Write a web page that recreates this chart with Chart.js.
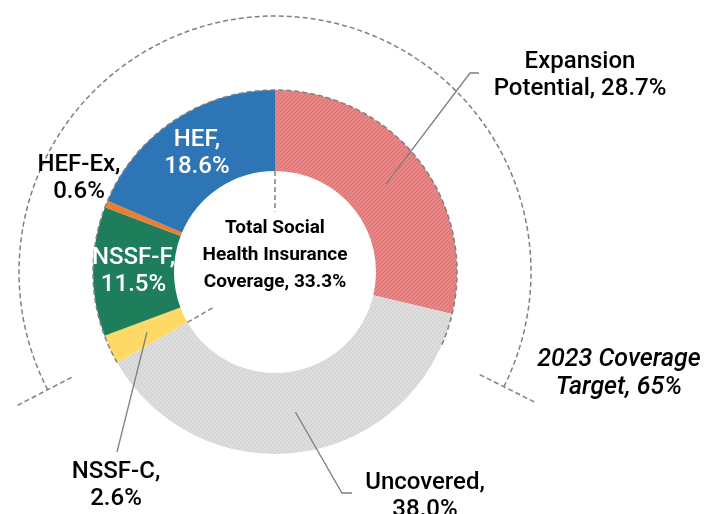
<!DOCTYPE html>
<html>
<head>
<meta charset="utf-8">
<script src="https://cdn.jsdelivr.net/npm/chart.js@4.4.1/dist/chart.umd.min.js"></script>
<style>
    html, body { margin: 0; padding: 0; background: #fff; }
</style>
</head>
<body>
<canvas id="coverage-chart" width="707" height="514"></canvas>
<script>
// Dữ liệu biểu đồ
const segmentNames = ['Expansion Potential', 'Uncovered', 'NSSF-C', 'NSSF-F', 'HEF-Ex', 'HEF'];
const segmentValues = [28.7, 38.0, 2.6, 11.5, 0.6, 18.6];
const coveredNames = ['NSSF-C', 'NSSF-F', 'HEF-Ex', 'HEF'];
const centerLines = ['Total Social', 'Health Insurance', 'Coverage, 33.3%'];
const coverageTarget = 65;
const targetLines = ['2023 Coverage', 'Target, 65%'];

// Kiểu dáng
const labelFont = '500 24px Roboto, "Liberation Sans", sans-serif';
const centerFont = 'bold 19px Roboto, "Liberation Sans", sans-serif';
const targetFont = 'italic 500 25px Roboto, "Liberation Sans", sans-serif';
const dashColor = '#808080';
const bracketShift = 2.5 * Math.PI / 180;

// Vị trí nhãn (bên trong: theo tâm cung; bên ngoài: toạ độ + đường dẫn)
const labelPlacement = {
    'Expansion Potential': { x: 580, y: 62, elbow: [470, 73], end: [479, 73] },
    'Uncovered': { x: 425, y: 483, elbow: [342, 493], end: [352, 493] },
    'NSSF-C': { x: 116, y: 472, elbow: [117, 452] },
    'NSSF-F': { inside: true },
    'HEF-Ex': { x: 79, y: 165 },
    'HEF': { inside: true }
};
const targetPos = { x: 619, y: 360 };

// Tạo nhãn hai dòng từ tên và giá trị
function labelLines(name, value) {
    const words = name.split(' ');
    const pct = value.toFixed(1) + '%';
    if (words.length > 1) return [words[0], words.slice(1).join(' ') + ', ' + pct];
    return [name + ',', pct];
}

// Mẫu gạch chéo cho các phần không được bao phủ
function makeHatch(base, line) {
    const c = document.createElement('canvas');
    c.width = 4; c.height = 4;
    const g = c.getContext('2d');
    g.fillStyle = base;
    g.fillRect(0, 0, 4, 4);
    g.strokeStyle = line;
    g.lineWidth = 1;
    g.beginPath();
    g.moveTo(0, 4); g.lineTo(4, 0);
    g.moveTo(-1, 1); g.lineTo(1, -1);
    g.moveTo(3, 5); g.lineTo(5, 3);
    g.stroke();
    return g.createPattern(c, 'repeat');
}

const segmentColors = [
    makeHatch('#E98585', '#DC7070'),
    makeHatch('#DDDDDD', '#D0D0D0'),
    '#FFD966',
    '#1E7D5B',
    '#ED7D31',
    '#2E75B6'
];

function drawLines(ctx, lines, x, y, step) {
    lines.forEach((t, i) => ctx.fillText(t, x, y + i * step));
}

// Plugin vẽ nhãn, đường dẫn và vùng mục tiêu
const annotationPlugin = {
    id: 'coverageAnnotations',
    afterDatasetsDraw(chart) {
        const ctx = chart.ctx;
        const arcs = chart.getDatasetMeta(0).data;
        const cx = arcs[0].x, cy = arcs[0].y;
        const outerR = arcs[0].outerRadius, innerR = arcs[0].innerRadius;
        const firstCovered = segmentNames.indexOf(coveredNames[0]);
        const lastCovered = segmentNames.indexOf(coveredNames[coveredNames.length - 1]);
        const startA = arcs[firstCovered].startAngle;
        const coveredEnd = arcs[lastCovered].endAngle;
        const targetEnd = startA + coverageTarget / 100 * Math.PI * 2;
        const pt = (a, r) => [cx + Math.cos(a) * r, cy + Math.sin(a) * r];

        ctx.save();
        // Đường đứt nét mục tiêu
        ctx.strokeStyle = dashColor;
        ctx.lineWidth = 1.5;
        ctx.setLineDash([5, 3]);
        ctx.beginPath();
        ctx.arc(cx, cy, outerR + 74, startA + bracketShift, targetEnd + bracketShift);
        ctx.stroke();
        ctx.beginPath();
        ctx.arc(cx, cy, outerR, startA, targetEnd);
        ctx.stroke();
        [startA + bracketShift, targetEnd + bracketShift].forEach(a => {
            const p1 = pt(a, outerR + 47), p2 = pt(a, outerR + 108);
            ctx.beginPath();
            ctx.moveTo(p1[0], p1[1]); ctx.lineTo(p2[0], p2[1]);
            ctx.stroke();
        });
        // Đường chỉ tổng bao phủ bên trong
        [[startA, innerR * 0.7], [coveredEnd, innerR * 0.6]].forEach(([a, r]) => {
            const p1 = pt(a, innerR), p2 = pt(a, r);
            ctx.beginPath();
            ctx.moveTo(p1[0], p1[1]); ctx.lineTo(p2[0], p2[1]);
            ctx.stroke();
        });
        ctx.setLineDash([]);

        // Nhãn từng phần
        ctx.textAlign = 'center';
        ctx.textBaseline = 'middle';
        segmentNames.forEach((name, i) => {
            const place = labelPlacement[name];
            const lines = labelLines(name, segmentValues[i]);
            const c = arcs[i].tooltipPosition();
            ctx.font = labelFont;
            if (place.inside) {
                ctx.fillStyle = '#ffffff';
                drawLines(ctx, lines, c.x, c.y - 14, 27);
                return;
            }
            if (place.elbow) {
                ctx.strokeStyle = '#7f7f7f';
                ctx.lineWidth = 1.3;
                ctx.beginPath();
                ctx.moveTo(c.x, c.y);
                ctx.lineTo(place.elbow[0], place.elbow[1]);
                if (place.end) ctx.lineTo(place.end[0], place.end[1]);
                ctx.stroke();
            }
            ctx.fillStyle = '#000000';
            drawLines(ctx, lines, place.x, place.y, 27);
        });

        // Nhãn ở giữa
        ctx.font = centerFont;
        ctx.fillStyle = '#000000';
        drawLines(ctx, centerLines, cx, cy - 44, 27);

        // Nhãn mục tiêu
        ctx.font = targetFont;
        drawLines(ctx, targetLines, targetPos.x, targetPos.y, 28);
        ctx.restore();
    }
};

new Chart(document.getElementById('coverage-chart'), {
    type: 'doughnut',
    data: {
        labels: segmentNames,
        datasets: [{
            data: segmentValues,
            backgroundColor: segmentColors,
            borderWidth: 0
        }]
    },
    options: {
        responsive: false,
        animation: false,
        cutout: '55.5%',
        layout: { padding: { left: 93, right: 250, top: 90, bottom: 60 } },
        plugins: {
            legend: { display: false },
            tooltip: { enabled: false }
        }
    },
    plugins: [annotationPlugin]
});
</script>
</body>
</html>
